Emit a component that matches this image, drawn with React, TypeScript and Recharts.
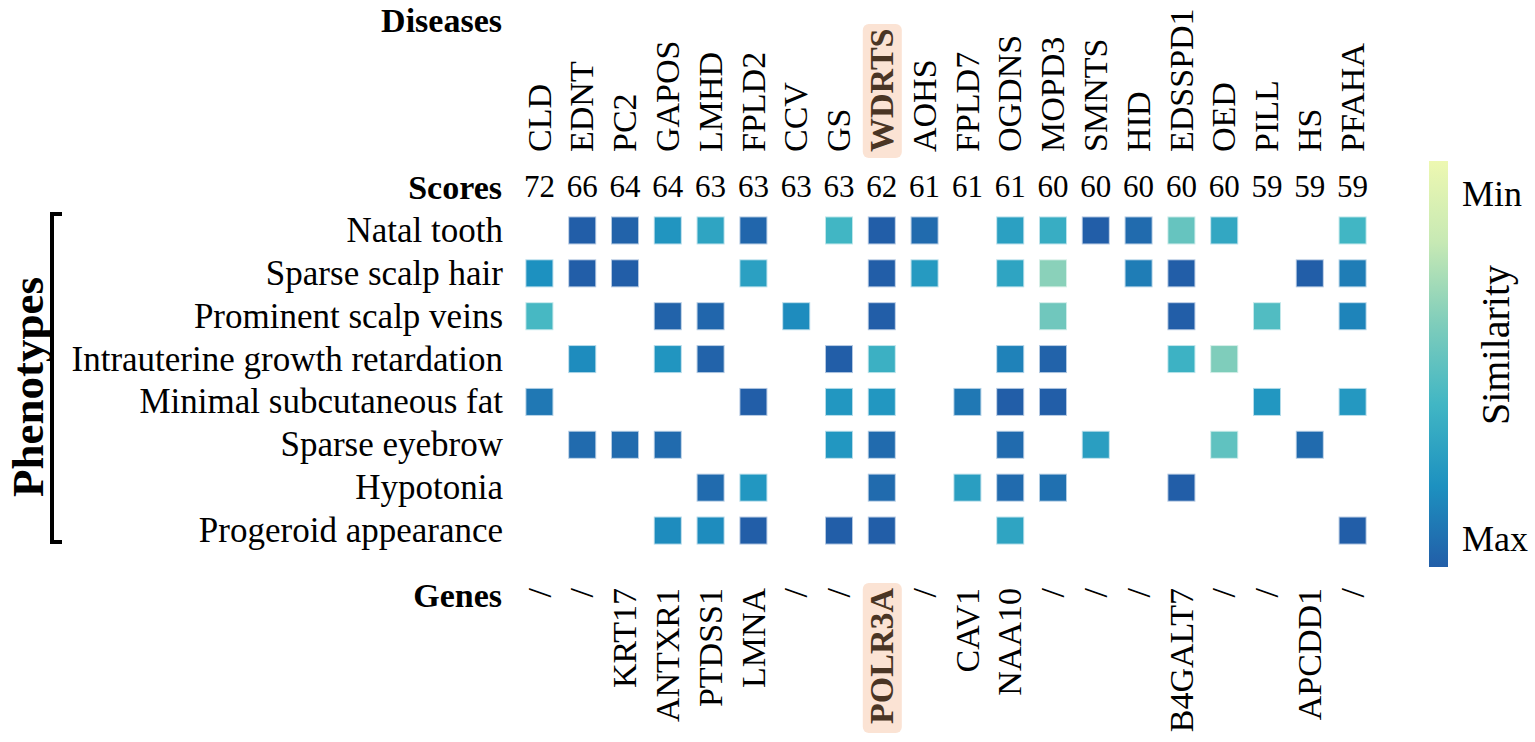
import React from 'react';
import { ScatterChart, Scatter, XAxis, YAxis } from 'recharts';

const diseases = ['CLD', 'EDNT', 'PC2', 'GAPOS', 'LMHD', 'FPLD2', 'CCV', 'GS', 'WDRTS', 'AOHS', 'FPLD7', 'OGDNS', 'MOPD3', 'SMNTS', 'HID', 'EDSSPD1', 'OED', 'PILL', 'HS', 'PFAHA'];
const scores = [72, 66, 64, 64, 63, 63, 63, 63, 62, 61, 61, 61, 60, 60, 60, 60, 60, 59, 59, 59];
const genes = ['/', '/', 'KRT17', 'ANTXR1', 'PTDSS1', 'LMNA', '/', '/', 'POLR3A', '/', 'CAV1', 'NAA10', '/', '/', '/', 'B4GALT7', '/', '/', 'APCDD1', '/'];
const phenotypes = ['Natal tooth', 'Sparse scalp hair', 'Prominent scalp veins', 'Intrauterine growth retardation', 'Minimal subcutaneous fat', 'Sparse eyebrow', 'Hypotonia', 'Progeroid appearance'];

// similarity (0 = Min, 1 = Max); null = no cell
const natalTooth = [null, 1.0, 0.98, 0.78, 0.7, 0.97, null, 0.6, 1.0, 0.95, null, 0.72, 0.65, 1.0, 0.95, 0.48, 0.68, null, null, 0.6];
const sparseScalpHair = [0.8, 1.0, 1.0, null, null, 0.72, null, null, 1.0, 0.75, null, 0.7, 0.37, null, 0.88, 1.0, null, null, 1.0, 0.88];
const prominentScalpVeins = [0.58, null, null, 0.98, 0.97, null, 0.82, null, 1.0, null, null, null, 0.45, null, null, 1.0, null, 0.55, null, 0.85];
const intrauterineGrowth = [null, 0.82, null, 0.78, 0.98, null, null, 1.0, 0.63, null, null, 0.86, 0.98, null, null, 0.62, 0.4, null, null, null];
const minimalFat = [0.9, null, null, null, null, 1.0, null, 0.77, 0.77, null, 0.9, 1.0, 1.0, null, null, null, null, 0.77, null, 0.76];
const sparseEyebrow = [null, 0.95, 0.95, 0.95, null, null, null, 0.77, 0.95, null, null, 0.95, null, 0.73, null, null, 0.5, null, 0.95, null];
const hypotonia = [null, null, null, null, 0.95, 0.77, null, null, 0.95, null, 0.73, 0.95, 0.93, null, null, 1.0, null, null, null, null];
const progeroid = [null, null, null, 0.82, 0.82, 1.0, null, 1.0, 1.0, null, null, 0.7, null, null, null, null, null, null, null, 1.0];

const similarityRows = [natalTooth, sparseScalpHair, prominentScalpVeins, intrauterineGrowth, minimalFat, sparseEyebrow, hypotonia, progeroid];
const highlightDisease = 'WDRTS';
const highlightGene = 'POLR3A';
const colorStops = ['#edf8b1', '#c7e9b4', '#7fcdbb', '#41b6c4', '#1d91c0', '#225ea8'];

const FONT = "'Liberation Serif', 'Times New Roman', serif";
const HL_FILL = '#fbe3d4';
const HL_TEXT = '#4a3524';

function hexToRgb(h: string) {
  const n = parseInt(h.slice(1), 16);
  return [(n >> 16) & 255, (n >> 8) & 255, n & 255];
}
function colorFor(v: number) {
  const t = Math.max(0, Math.min(1, v)) * (colorStops.length - 1);
  const i = Math.min(colorStops.length - 2, Math.floor(t));
  const f = t - i;
  const a = hexToRgb(colorStops[i]);
  const b = hexToRgb(colorStops[i + 1]);
  const c = a.map((x, k) => Math.round(x + (b[k] - x) * f));
  return `rgb(${c[0]},${c[1]},${c[2]})`;
}

const cells = similarityRows.flatMap((row, r) =>
  row.map((v, c) => (v == null ? null : { x: c, y: r, v })).filter((d) => d !== null)
) as { x: number; y: number; v: number }[];

const colTicks = diseases.map((_, i) => i);
const rowTicks = phenotypes.map((_, i) => i);
const SQ = 26;

const CellShape = (props: any) => {
  const { cx, cy, payload } = props;
  if (cx == null || cy == null) return null;
  const fill = colorFor(payload.v);
  return (
    <rect x={cx - SQ / 2} y={cy - SQ / 2} width={SQ} height={SQ} fill={fill} stroke={fill} strokeOpacity={0.35} strokeWidth={2} />
  );
};

const DiseaseTick = (props: any) => {
  const { x, y, payload } = props;
  const name = diseases[payload.value];
  if (name == null) return null;
  const hl = name === highlightDisease;
  return (
    <g>
      {hl && <rect x={x - 19} y={y - 145} width={39} height={134} rx={6} fill={HL_FILL} />}
      <text transform={`translate(${x},${y - 17}) rotate(-90)`} textAnchor="start" dy="0.33em" fontFamily={FONT} fontSize={34} fontWeight={hl ? 'bold' : 'normal'} fill={hl ? HL_TEXT : '#000'}>
        {name}
      </text>
    </g>
  );
};

const ScoreTick = (props: any) => {
  const { x, y, payload } = props;
  const s = scores[payload.value];
  if (s == null) return null;
  return (
    <text x={x} y={y - 12} textAnchor="middle" fontFamily={FONT} fontSize={31} fill="#000">
      {s}
    </text>
  );
};

const GeneTick = (props: any) => {
  const { x, y, payload } = props;
  const g = genes[payload.value];
  if (g == null) return null;
  const hl = g === highlightGene;
  return (
    <g>
      {hl && <rect x={x - 19} y={y + 31} width={39} height={150} rx={6} fill={HL_FILL} />}
      <text transform={`translate(${x},${y + 36}) rotate(-90)`} textAnchor="end" dy="0.33em" fontFamily={FONT} fontSize={34} fontWeight={hl ? 'bold' : 'normal'} fill={hl ? HL_TEXT : '#000'}>
        {g}
      </text>
    </g>
  );
};

const PhenoTick = (props: any) => {
  const { x, y, payload } = props;
  const p = phenotypes[payload.value];
  if (p == null) return null;
  return (
    <text x={x - 15} y={y} dy="0.33em" textAnchor="end" fontFamily={FONT} fontSize={35} fill="#000">
      {p}
    </text>
  );
};

export default function App() {
  const W = 1535;
  const H = 742;
  return (
    <div style={{ position: 'absolute', left: 0, top: 0, width: W, height: H, background: '#fff' }}>
      <ScatterChart width={W} height={H} margin={{ top: 0, right: 161, bottom: 0, left: 0 }}>
        <XAxis xAxisId="a_scores" orientation="top" type="number" dataKey="x" domain={[-0.5, 19.5]} allowDataOverflow ticks={colTicks} interval={0} height={40} axisLine={false} tickLine={false} tickSize={0} tickMargin={0} tick={<ScoreTick />} />
        <XAxis xAxisId="b_diseases" orientation="top" type="number" dataKey="x" domain={[-0.5, 19.5]} allowDataOverflow ticks={colTicks} interval={0} height={169} axisLine={false} tickLine={false} tickSize={0} tickMargin={0} tick={<DiseaseTick />} />
        <XAxis xAxisId="c_genes" orientation="bottom" type="number" dataKey="x" domain={[-0.5, 19.5]} allowDataOverflow ticks={colTicks} interval={0} height={190} axisLine={false} tickLine={false} tickSize={0} tickMargin={0} tick={<GeneTick />} />
        <YAxis yAxisId="ph" type="number" dataKey="y" domain={[-0.5, 7.5]} allowDataOverflow reversed ticks={rowTicks} interval={0} width={518} axisLine={false} tickLine={false} tickSize={0} tickMargin={0} tick={<PhenoTick />} />
        <Scatter xAxisId="a_scores" yAxisId="ph" data={cells} shape={<CellShape />} isAnimationActive={false} />
        <Scatter xAxisId="b_diseases" yAxisId="ph" data={cells} shape={() => null} isAnimationActive={false} />
        <Scatter xAxisId="c_genes" yAxisId="ph" data={cells} shape={() => null} isAnimationActive={false} />
      </ScatterChart>
      <svg width={W} height={H} style={{ position: 'absolute', left: 0, top: 0, pointerEvents: 'none' }}>
        <defs>
          <linearGradient id="simGrad" x1="0" y1="0" x2="0" y2="1">
            {colorStops.map((c, i) => (
              <stop key={i} offset={`${(i / (colorStops.length - 1)) * 100}%`} stopColor={c} />
            ))}
          </linearGradient>
        </defs>
        <g fontFamily={FONT} fill="#000">
          <text x={502} y={32} textAnchor="end" fontSize={34} fontWeight="bold">Diseases</text>
          <text x={502} y={199} textAnchor="end" fontSize={34} fontWeight="bold">Scores</text>
          <text x={502} y={607} textAnchor="end" fontSize={34} fontWeight="bold">Genes</text>
          <text transform="translate(43,387) rotate(-90)" textAnchor="middle" fontSize={45} fontWeight="bold">Phenotypes</text>
          <text x={1462} y={206} fontSize={36}>Min</text>
          <text x={1462} y={551} fontSize={36}>Max</text>
          <text transform="translate(1509,345) rotate(-90)" textAnchor="middle" fontSize={40}>Similarity</text>
        </g>
        <path d="M62,214 L52,214 L52,542 L62,542" fill="none" stroke="#000" strokeWidth={4} />
        <rect x={1429} y={161} width={19} height={406} fill="url(#simGrad)" />
      </svg>
    </div>
  );
}
